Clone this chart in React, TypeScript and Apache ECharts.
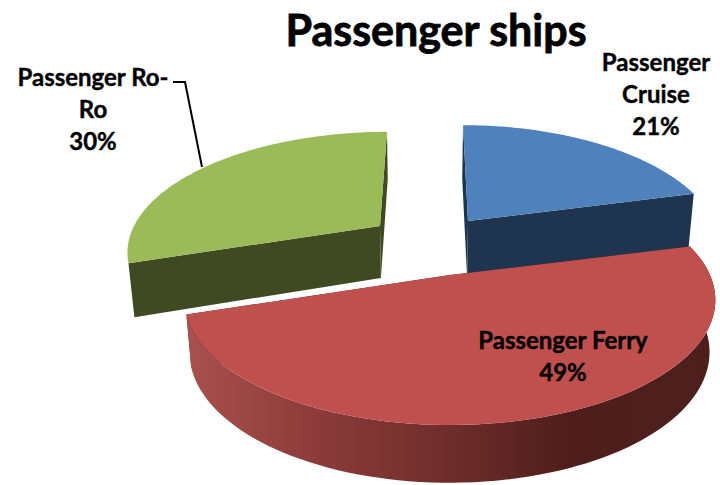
import React, { useEffect, useRef } from "react";
import * as echarts from "echarts";

const titleText = "Passenger ships";
const categories = ["Passenger Cruise", "Passenger Ferry", "Passenger Ro-Ro"];
const labelLines = ["Passenger\nCruise", "Passenger Ferry", "Passenger Ro-\nRo"];
const shares = [21, 49, 30];
const topColors = ["#4f81bd", "#c0504d", "#9bbb59"];
const wallColors = ["#1f344e", "#4c1f1d", "#3f4a22"];

// Geometry of each exploded slice: apex, radii, perspective lean and depth.
const geometry = [
  { ax: 468, ay: 221, a: 246, b: 115, lean: 5, d0: 36, d1: 21, lx: 656, ly: 93 },
  { ax: 450, ay: 275, a: 260, b: 120, lean: 0, d0: 24, d1: 27, lx: 563, ly: 355 },
  { ax: 380, ay: 226, a: 246, b: 113, lean: -7, d0: 22, d1: 30, lx: 93, ly: 108 },
];
const drawOrder = [0, 2, 1];
const persp = 0.2;
const fontFamily = "Lato, 'Noto Sans', sans-serif";

function startAngles() {
  const total = shares.reduce((s, v) => s + v, 0);
  let acc = 0;
  return shares.map((v) => {
    const start = (acc / total) * Math.PI * 2;
    acc += v;
    return [start, (acc / total) * Math.PI * 2];
  });
}

function renderSlice(_params: any, api: any) {
  const i = api.value(0) as number;
  const [t0, t1] = startAngles()[i];
  const g = geometry[i];
  const top = (t: number) => {
    const X = Math.sin(t);
    const Z = -Math.cos(t);
    const s = 1 / (1 - persp * Z);
    return { x: g.ax + g.a * s * X + g.lean * Z, y: g.ay + g.b * s * Z, s };
  };
  const low = (p: { x: number; y: number; s: number }) => [
    p.x - 0.02 * (p.x - 425),
    p.y + g.d0 + g.d1 * p.s,
  ];
  const arc: { x: number; y: number; s: number }[] = [];
  const n = 90;
  for (let k = 0; k <= n; k++) arc.push(top(t0 + ((t1 - t0) * k) / n));
  const apex = { x: g.ax, y: g.ay, s: 1 };
  const quad = (p: any, q: any) => [[p.x, p.y], [q.x, q.y], low(q), low(p)];
  const poly = (points: number[][], fill: any) => ({
    type: "polygon",
    shape: { points },
    style: { fill },
  });
  const children: any[] = [
    poly(quad(apex, arc[0]), wallColors[i]),
    poly(quad(apex, arc[arc.length - 1]), wallColors[i]),
  ];
  if (i === 1) {
    children.push(
      poly(
        [...arc.map((p) => [p.x, p.y]), ...arc.slice().reverse().map(low)],
        new echarts.graphic.LinearGradient(0, 0, 1, 0, [
          { offset: 0, color: "#a8514e" },
          { offset: 0.25, color: "#8b3b39" },
          { offset: 0.5, color: "#6d2d2b" },
          { offset: 0.72, color: "#4f1e1c" },
          { offset: 1, color: "#4c1f1d" },
        ])
      )
    );
  }
  children.push(
    poly([[apex.x, apex.y], ...arc.map((p) => [p.x, p.y])], topColors[i]),
    {
      type: "text",
      z2: 10,
      style: {
        text: `${labelLines[i]}\n${shares[i]}%`,
        x: g.lx,
        y: g.ly,
        align: "center",
        verticalAlign: "middle",
        fill: "#000",
        stroke: "#000",
        lineWidth: 0.4,
        font: `bold 24px ${fontFamily}`,
        lineHeight: 32,
      },
    }
  );
  if (i === 2) {
    children.push({
      type: "polyline",
      shape: { points: [[173, 82], [185, 82], [202, 167]] },
      style: { fill: "none", stroke: "#000", lineWidth: 2 },
    });
  }
  return { type: "group", children };
}

export default function App() {
  const ref = useRef<HTMLDivElement>(null);
  useEffect(() => {
    const chart = echarts.init(ref.current!, undefined, { renderer: "svg" });
    chart.setOption({
      animation: false,
      backgroundColor: "#fff",
      title: {
        text: titleText,
        left: 431,
        top: 3,
        textAlign: "center",
        textStyle: {
          fontFamily,
          fontWeight: "bold",
          fontSize: 43,
          color: "#000",
          textBorderColor: "#000",
          textBorderWidth: 0.8,
        },
      },
      series: [
        {
          type: "custom",
          coordinateSystem: "none",
          silent: true,
          renderItem: renderSlice,
          data: drawOrder.map((i) => ({ name: categories[i], value: [i, shares[i]] })),
        },
      ],
    });
    return () => chart.dispose();
  }, []);
  return (
    <div
      ref={ref}
      style={{ position: "fixed", left: 0, top: 0, width: 720, height: 485 }}
    />
  );
}
